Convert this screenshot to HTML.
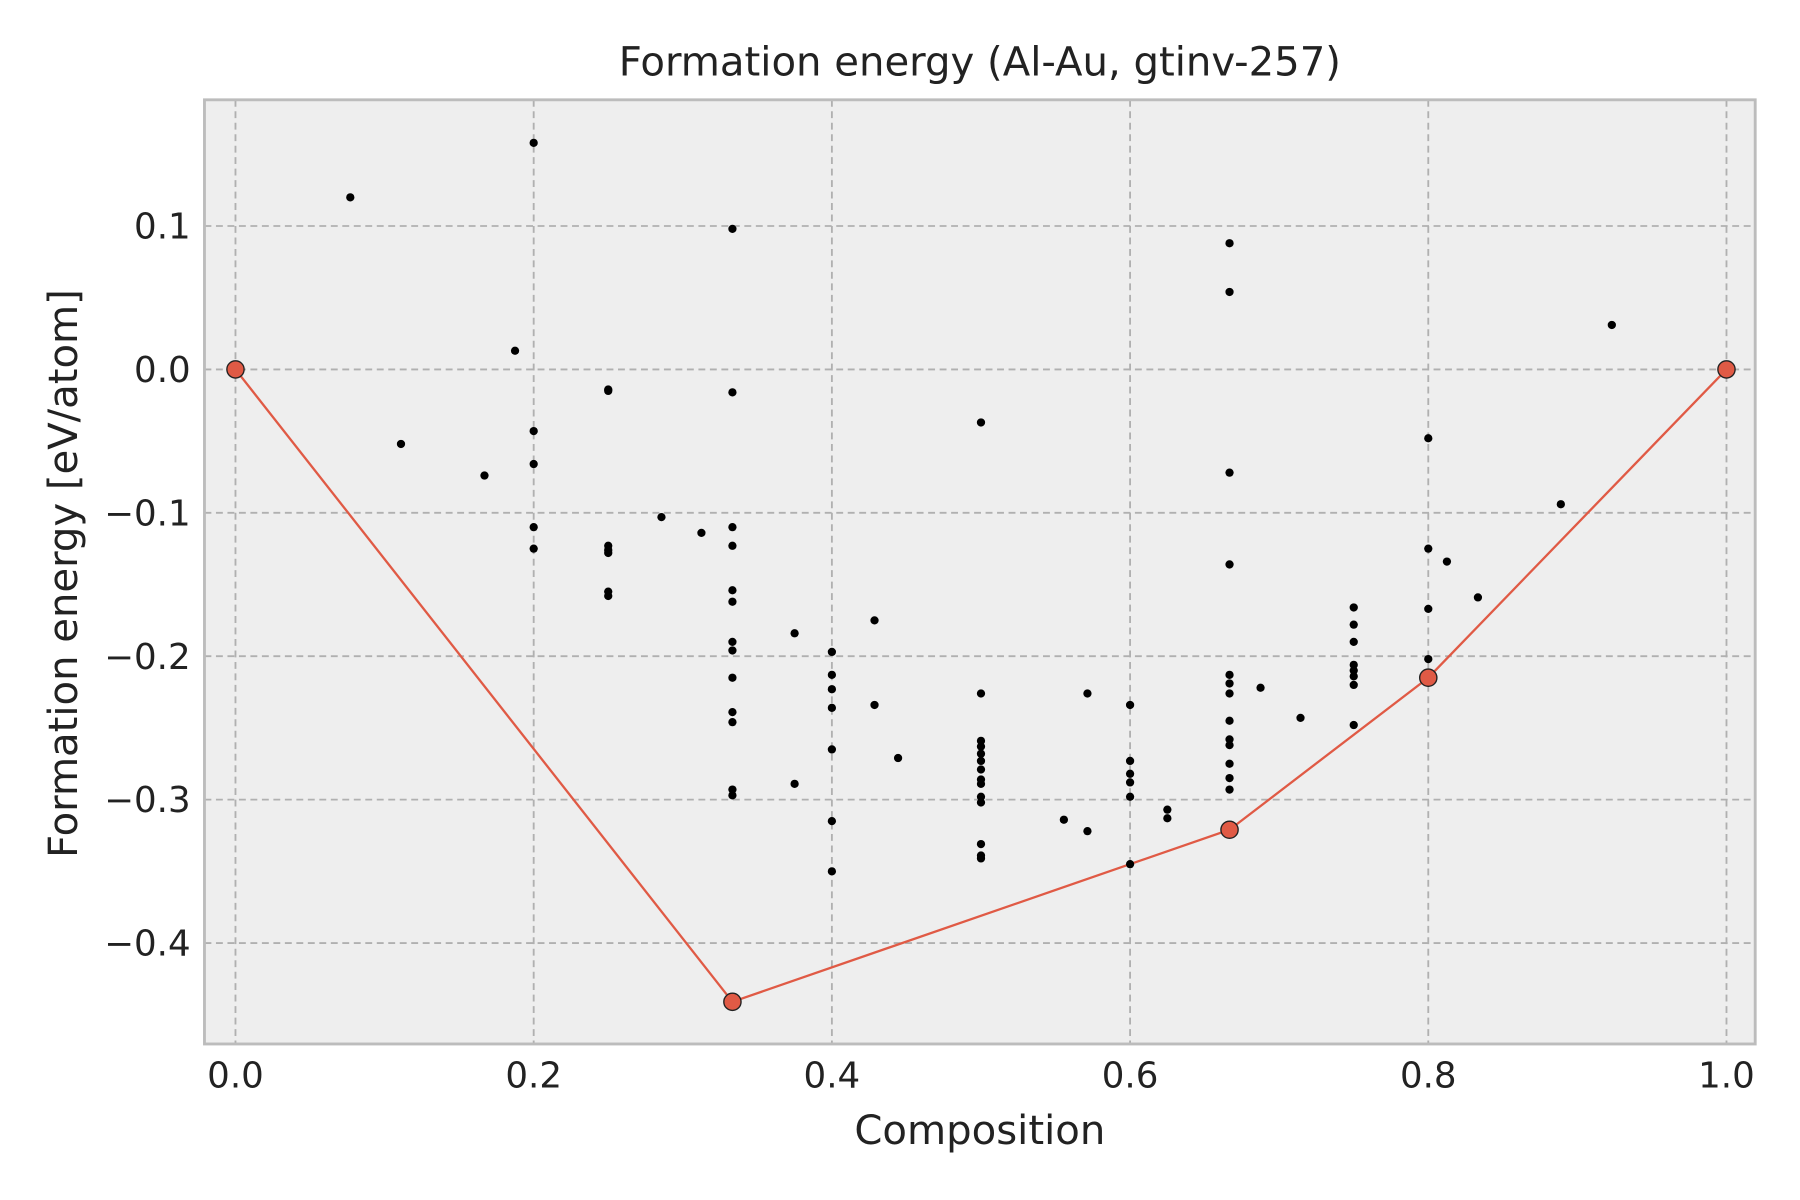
<!DOCTYPE html>
<html><head><meta charset="utf-8"><style>
html,body{margin:0;padding:0;background:#fff;}
svg{display:block;font-family:"DejaVu Sans","Liberation Sans",sans-serif;}
</style></head><body>
<svg id="chart" width="1800" height="1200" viewBox="0 0 1567 1046" preserveAspectRatio="none" xmlns="http://www.w3.org/2000/svg">
<rect x="0" y="0" width="1567" height="1046" fill="#fff"/>
<rect x="178" y="87" width="1350" height="823" fill="#eeeeee"/>
<g id="grid"></g>
<g id="hull"></g>
<g id="points"></g>
<rect x="178" y="87" width="1350" height="823" fill="none" stroke="#bcbcbc" stroke-width="2.5"/>
<g id="ticks"></g>
<text x="853" y="66" font-size="35" text-anchor="middle" fill="#222">Formation energy (Al-Au, gtinv-257)</text>
<text x="853" y="997" font-size="35" text-anchor="middle" fill="#222">Composition</text>
<text transform="translate(67,500) rotate(-90)" font-size="35" text-anchor="middle" fill="#222">Formation energy [eV/atom]</text>
</svg>
<script>
const xTicks=[0,0.2,0.4,0.6,0.8,1.0];
const xTickLabels=["0.0","0.2","0.4","0.6","0.8","1.0"];
const yTicks=[0.1,0,-0.1,-0.2,-0.3,-0.4];
const yTickLabels=["0.1","0.0","\u22120.1","\u22120.2","\u22120.3","\u22120.4"];
const ptX=[0.077,0.111,0.167,0.1875,0.2,0.2,0.2,0.2,0.2,
0.25,0.25,0.25,0.25,0.25,0.25,0.25,0.2857,0.3125,
0.3333,0.3333,0.3333,0.3333,0.3333,0.3333,0.3333,0.3333,0.3333,0.3333,0.3333,0.3333,0.3333,
0.375,0.375,0.4,0.4,0.4,0.4,0.4,0.4,0.4,0.4286,0.4286,0.4444,
0.5,0.5,0.5,0.5,0.5,0.5,0.5,0.5,0.5,0.5,0.5,0.5,0.5,0.5,
0.5556,0.5714,0.5714,0.6,0.6,0.6,0.6,0.6,0.6,0.625,0.625,
0.6667,0.6667,0.6667,0.6667,0.6667,0.6667,0.6667,0.6667,0.6667,0.6667,0.6667,0.6667,0.6667,
0.6875,0.7143,0.75,0.75,0.75,0.75,0.75,0.75,0.75,0.75,
0.8,0.8,0.8,0.8,0.8125,0.8333,0.8889,0.9231];
const ptY=[0.12,-0.052,-0.074,0.013,0.158,-0.043,-0.066,-0.11,-0.125,
-0.014,-0.015,-0.123,-0.126,-0.128,-0.155,-0.158,-0.103,-0.114,
0.098,-0.016,-0.11,-0.123,-0.154,-0.162,-0.19,-0.196,-0.215,-0.239,-0.246,-0.293,-0.297,
-0.184,-0.289,-0.197,-0.213,-0.223,-0.236,-0.265,-0.315,-0.35,-0.175,-0.234,-0.271,
-0.037,-0.226,-0.259,-0.263,-0.268,-0.273,-0.279,-0.286,-0.289,-0.298,-0.302,-0.331,-0.339,-0.341,
-0.314,-0.226,-0.322,-0.234,-0.273,-0.282,-0.288,-0.298,-0.345,-0.307,-0.313,
0.088,0.054,-0.072,-0.136,-0.213,-0.219,-0.226,-0.245,-0.258,-0.262,-0.275,-0.285,-0.293,
-0.222,-0.243,-0.166,-0.178,-0.19,-0.206,-0.21,-0.214,-0.22,-0.248,
-0.048,-0.125,-0.167,-0.202,-0.134,-0.159,-0.094,0.031];
const hullX=[0,0.3333,0.6667,0.8,1.0];
const hullY=[0,-0.441,-0.321,-0.215,0];

const NS="http://www.w3.org/2000/svg";
function sx(v){return 205+v*1298;}
function sy(v){return 322-v*1250;}
function mk(tag,attrs,parent){const e=document.createElementNS(NS,tag);for(const k in attrs)e.setAttribute(k,attrs[k]);document.getElementById(parent).appendChild(e);return e;}

xTicks.forEach((t,i)=>{
  const l=mk('line',{x1:sx(t),x2:sx(t),y1:87,y2:910,stroke:'#b0b0b0','stroke-width':1.6,'stroke-dasharray':'6,4'},'grid');
  
  
  const tx=mk('text',{x:sx(t),y:948,'font-size':31,'text-anchor':'middle',fill:'#222'},'ticks');
  tx.textContent=xTickLabels[i];
  
  
});
yTicks.forEach((t,i)=>{
  const l=mk('line',{x1:178,x2:1528,y1:sy(t),y2:sy(t),stroke:'#b0b0b0','stroke-width':1.6,'stroke-dasharray':'6,4'},'grid');
  
  
  const tx=mk('text',{x:166,y:sy(t)+11,'font-size':31,'text-anchor':'end',fill:'#222'},'ticks');
  tx.textContent=yTickLabels[i];
  
  
});
ptX.forEach((x,i)=>{
  const c=mk('circle',{cx:sx(x),cy:sy(ptY[i]),r:3.6,fill:'#000'},'points');
  
  
});
const pts=hullX.map((x,i)=>sx(x)+','+sy(hullY[i])).join(' ');
const pl=mk('polyline',{points:pts,fill:'none',stroke:'#e05a45','stroke-width':2},'hull');


hullX.forEach((x,i)=>{
  const c=mk('circle',{cx:sx(x),cy:sy(hullY[i]),r:7.5,fill:'#e05a45',stroke:'#222','stroke-width':1.2},'hull');
  
  
});
</script>
</body></html>
